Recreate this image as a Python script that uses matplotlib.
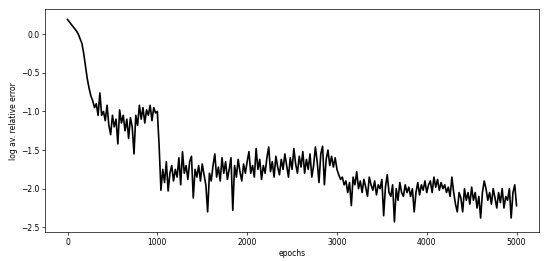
import numpy as np
import matplotlib
matplotlib.use("Agg")
import matplotlib.pyplot as plt

epochs = list(range(0, 5001, 20))
log_err = [
    0.19, 0.16, 0.13, 0.10, 0.07, 0.04, 0.00, -0.06, -0.12, -0.25,
    -0.42, -0.58, -0.70, -0.80, -0.86, -0.95, -0.90, -1.05, -0.76, -1.05,
    -1.00, -1.12, -0.92, -1.18, -1.30, -1.05, -1.20, -1.10, -1.42, -0.98,
    -1.15, -1.05, -1.25, -1.10, -1.35, -1.08, -1.20, -1.55, -1.05, -1.18,
    -0.92, -1.10, -0.95, -1.15, -0.98, -1.05, -0.92, -1.12, -0.95, -1.02,
    -1.00, -1.45, -2.02, -1.75, -1.92, -1.65, -2.03, -1.80, -1.70, -1.90,
    -1.75, -1.85, -1.60, -1.95, -1.52, -1.80, -1.70, -1.88, -1.65, -1.58,
    -2.12, -1.75, -1.85, -1.70, -1.90, -1.68, -1.82, -1.95, -2.30, -1.80,
    -1.90, -1.70, -1.55, -1.85, -1.72, -1.90, -1.60, -1.80, -1.65, -1.88,
    -1.75, -1.60, -2.28, -1.70, -1.85, -1.62, -1.78, -1.90, -1.68, -1.80,
    -1.65, -1.52, -1.80, -1.70, -1.85, -1.48, -1.75, -1.62, -1.88, -1.70,
    -1.80, -1.60, -1.46, -1.78, -1.65, -1.85, -1.58, -1.72, -1.82, -1.62,
    -1.75, -1.55, -1.70, -1.85, -1.60, -1.75, -1.48, -1.68, -1.80, -1.58,
    -1.72, -1.52, -1.80, -1.62, -1.75, -1.55, -1.85, -1.70, -1.46, -1.65,
    -1.92, -1.55, -1.45, -1.95, -1.62, -1.50, -1.70, -1.58, -1.72, -1.60,
    -1.75, -1.82, -1.88, -1.85, -1.95, -1.90, -2.05, -1.92, -2.22, -1.85,
    -1.95, -1.78, -2.00, -1.90, -2.05, -1.88, -1.98, -2.10, -1.85, -1.95,
    -2.02, -1.90, -2.08, -1.95, -2.00, -1.88, -2.35, -1.98, -1.82, -2.05,
    -2.10, -1.95, -2.43, -2.00, -2.15, -1.92, -2.05, -2.10, -1.95, -2.05,
    -1.98, -2.10, -2.00, -2.30, -2.05, -1.92, -2.08, -1.95, -2.02, -1.90,
    -2.05, -1.95, -1.90, -2.05, -1.85, -1.98, -1.88, -2.02, -1.92, -2.00,
    -1.95, -2.05, -1.98, -2.10, -1.85, -2.05, -2.20, -2.30, -2.05, -2.12,
    -2.30, -2.00, -2.15, -2.05, -2.20, -1.98, -2.15, -2.05, -2.25, -2.10,
    -2.38, -2.05, -1.90, -2.00, -2.15, -2.05, -2.20, -2.00, -2.12, -2.25,
    -2.05, -2.18, -2.00, -2.25, -2.10, -2.15, -2.00, -2.38, -2.05, -1.95,
    -2.22,
]

fig = plt.figure(figsize=(5.5, 2.61), dpi=100)
ax = fig.add_axes([0.082, 0.111, 0.898, 0.853])
ax.plot(epochs, log_err, color="black", linewidth=1.2)
ax.set_xticks([0, 1000, 2000, 3000, 4000, 5000])
ax.set_yticks([0.0, -0.5, -1.0, -1.5, -2.0, -2.5])
ax.set_xlabel("epochs", fontsize=5.5, labelpad=2)
ax.set_ylabel("log av. relative error", fontsize=5.5, labelpad=2)
ax.tick_params(labelsize=5.5, length=2, width=0.5, pad=2)
for s in ax.spines.values():
    s.set_linewidth(0.5)
fig.savefig("out.png", dpi=100)
